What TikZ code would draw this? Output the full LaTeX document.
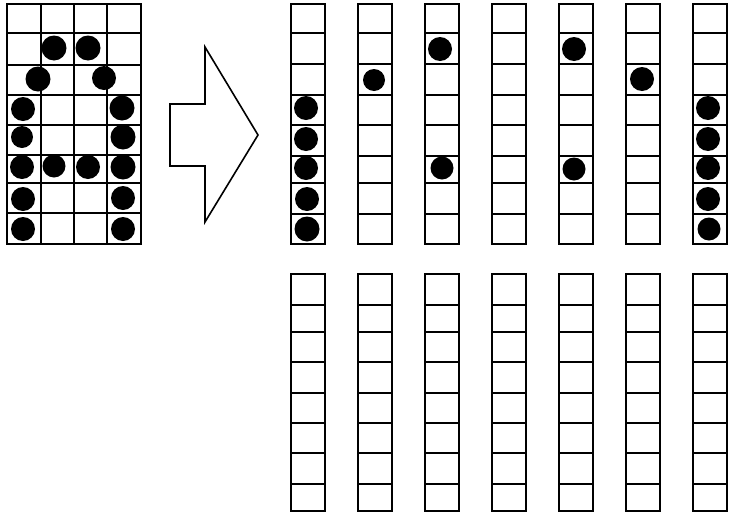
\documentclass[tikz,border=0pt]{standalone}
\begin{document}
\begin{tikzpicture}[x=1pt,y=-1pt,
  gridline/.style={line width=2pt, draw=black},
  arrowline/.style={line width=1.6pt, draw=black, line join=miter, fill=white},
  dot/.style={fill=black}]
\useasboundingbox[fill=white] (0,0) rectangle (732,517);
% left grid
\draw[gridline] (7,4) rectangle (141,244);
\foreach \y in {33,65,95,125,155,183,213} \draw[gridline] (7,\y) -- (141,\y);
\foreach \x in {41,74,107} \draw[gridline] (\x,4) -- (\x,244);
\foreach \x/\y/\r in {54/48/12.5, 88/48/12.5, 38/79/12.5, 104/78/12,
  23/109/12, 122/108/12.5, 22/137/11, 123/137/12.5,
  22/167/12, 54/166/11.5, 88/167/12, 123/167/12.5,
  23/199/12, 123/198/12, 23/229/12, 123/229/12}
  \fill[dot] (\x,\y) circle (\r pt);
% arrow
\draw[arrowline] (170,104) -- (205,104) -- (205,47) -- (258,135) -- (205,222) -- (205,166) -- (170,166) -- cycle;
% columns
\foreach \i in {0,...,6}{
  \pgfmathsetmacro{\xa}{291+67*\i}
  \pgfmathsetmacro{\xb}{\xa+34}
  \draw[gridline] (\xa,4) rectangle (\xb,244);
  \foreach \y in {33,64,95,125,156,183,214} \draw[gridline] (\xa,\y) -- (\xb,\y);
  \draw[gridline] (\xa,274) rectangle (\xb,511);
  \foreach \y in {305,332,362,393,423,453,484} \draw[gridline] (\xa,\y) -- (\xb,\y);
}
\foreach \x/\y/\r in {306/108/12, 306/139/12, 306/168/12, 307/199/12, 307/229/12.5,
  374/80/11, 440/49/12, 442/168/11.5, 574/49/12, 574/169/11.5, 642/79/12,
  708/108/12, 708/139/12, 708/168/12, 708/199/12, 709/229/11.5}
  \fill[dot] (\x,\y) circle (\r pt);
\end{tikzpicture}
\end{document}
